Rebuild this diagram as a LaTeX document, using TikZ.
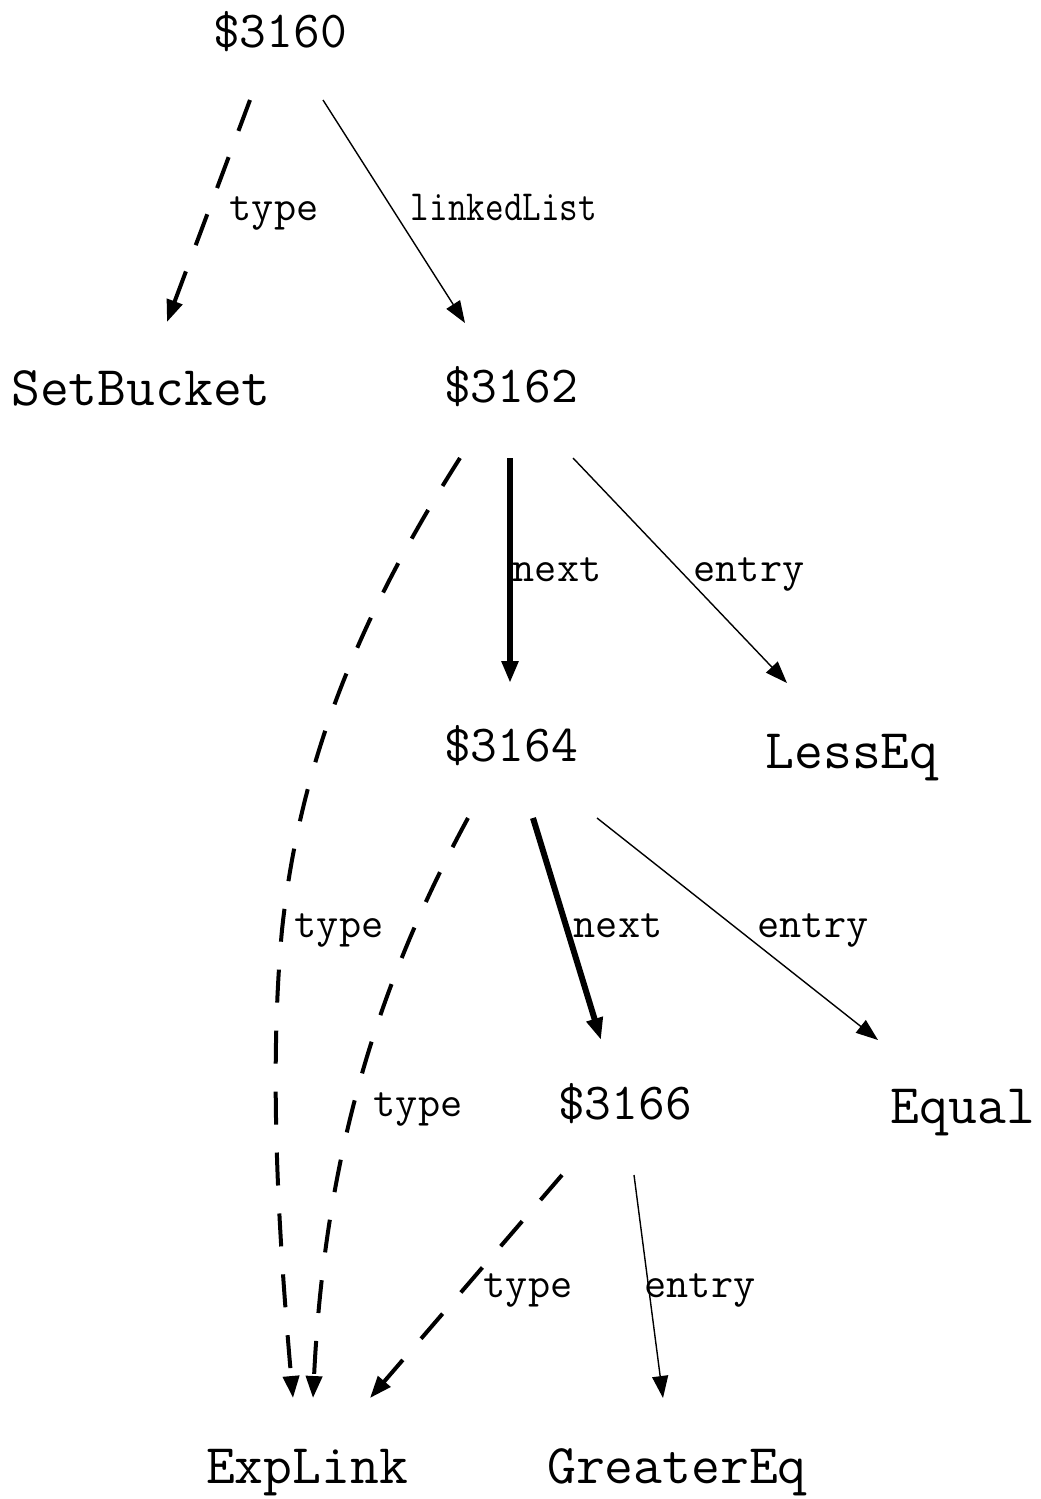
\documentclass[tikz,border=0pt]{standalone}
\usepackage{fontspec}
\usetikzlibrary{arrows.meta,calc}
\tikzset{
  lbl/.style={font=\ttfamily\fontsize{52}{60}\selectfont, inner sep=0pt, anchor=base},
  wlbl/.style={font=\ttfamily\fontsize{56}{64}\selectfont, inner sep=0pt, anchor=base},
  elbl/.style={font=\ttfamily\fontsize{43}{50}\selectfont, inner sep=0pt, anchor=base},
  tipped/.style={-{Triangle[length=22pt,width=16pt]}},
  thinedge/.style={tipped, line width=1.4pt},
  typeedge/.style={tipped, line width=4pt, dash pattern=on 33pt off 28pt},
  nextedge/.style={tipped, line width=6pt},
}
\begin{document}
\begin{tikzpicture}[x=1pt,y=-1pt]
\useasboundingbox (0,0) rectangle (1041,1499);
% nodes
\node[lbl] (n3160) at (280,47) {\$3160};
\node[wlbl] (setb) at (141,405) {SetBucket};
\node[lbl] (n3162) at (511,402) {\$3162};
\node[lbl] (n3164) at (511,761) {\$3164};
\node[wlbl] (lesseq) at (852,768) {LessEq};
\node[lbl] (n3166) at (625,1119) {\$3166};
\node[wlbl] (equal) at (963,1123) {Equal};
\node[wlbl] (explink) at (307,1483) {ExpLink};
\node[wlbl] (greq) at (677,1483) {GreaterEq};
% edges
\draw[typeedge] ($(n3160.base)+(-30,53)$) -- ($(setb.base)+(26,-83)$);
\draw[thinedge] ($(n3160.base)+(43,53)$) -- ($(n3162.base)+(-46,-79)$);
\draw[nextedge] ($(n3162.base)+(-1,56)$) -- ($(n3164.base)+(-1,-78)$);
\draw[thinedge] ($(n3162.base)+(62,56)$) -- ($(lesseq.base)+(-65,-85)$);
\draw[typeedge] ($(n3162.base)+(-51,56)$) .. controls (360,615) and (300,760) .. (282,930)
   .. controls (268,1080) and (280,1250) .. ($(explink.base)+(-14,-85)$);
\draw[nextedge] ($(n3164.base)+(22,57)$) -- ($(n3166.base)+(-24,-79)$);
\draw[thinedge] ($(n3164.base)+(86,57)$) -- ($(equal.base)+(-85,-83)$);
\draw[typeedge] ($(n3164.base)+(-43,57)$) .. controls (380,980) and (325,1150) .. ($(explink.base)+(6,-85)$);
\draw[typeedge] ($(n3166.base)+(-63,56)$) -- ($(explink.base)+(63,-85)$);
\draw[thinedge] ($(n3166.base)+(9,56)$) -- ($(greq.base)+(-14,-85)$);
% edge labels
\node[elbl] (l1) at (274,220) {type};
\node[elbl] (l2) at (504,220) {\scalebox{0.84}[1]{linkedList}};
\node[elbl] (l3) at (557,581) {next};
\node[elbl] (l4) at (749,581) {entry};
\node[elbl] (l5) at (339,937) {type};
\node[elbl] (l6) at (618,937) {next};
\node[elbl] (l7) at (813,937) {entry};
\node[elbl] (l8) at (418,1116) {type};
\node[elbl] (l9) at (528,1297) {type};
\node[elbl] (l10) at (700,1297) {entry};
\end{tikzpicture}
\end{document}
